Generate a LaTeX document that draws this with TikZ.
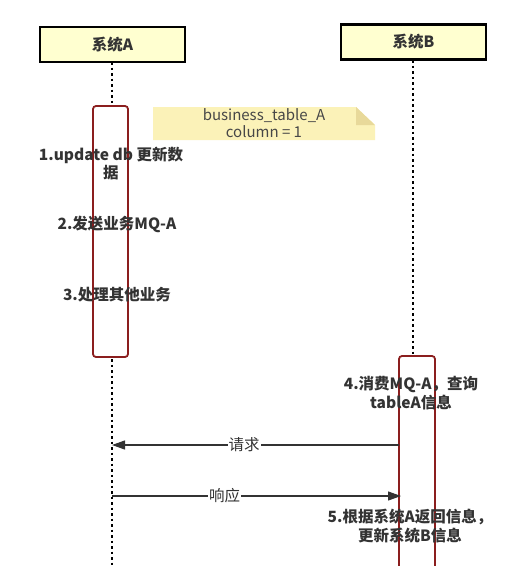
\documentclass[tikz,border=0pt]{standalone}
\usepackage{fontspec}
\setmainfont{Noto Sans CJK SC}
\usetikzlibrary{arrows.meta}
\definecolor{boxfill}{HTML}{FFFFD0}
\definecolor{notefill}{HTML}{FBF2B8}
\definecolor{notefold}{HTML}{E8D99A}
\definecolor{actred}{HTML}{8B1E1E}
\definecolor{txt}{HTML}{333333}
\tikzset{
  sysbox/.style={draw=black, line width=2.2pt, fill=boxfill, minimum width=145pt, minimum height=35pt, inner sep=0pt, font=\fontsize{15.5}{18}\selectfont\bfseries, text=txt},
  lifeline/.style={line width=2.5pt, dash pattern=on 2.5pt off 3pt, black},
  actbox/.style={draw=actred, line width=1.8pt, fill=white, rounded corners=3pt},
  steptext/.style={font=\fontsize{15.5}{18.5}\selectfont\bfseries, text=txt, align=center, inner sep=0pt},
  notetext/.style={font=\fontsize{15}{16.5}\selectfont, text=txt!90, align=center, inner sep=0pt},
  msg/.style={draw=txt, line width=1.2pt, -{Triangle[length=13pt,width=9pt]}},
  msglabel/.style={font=\fontsize{15.5}{17}\selectfont, text=txt, fill=white, inner sep=1pt},
}
\begin{document}
\begin{tikzpicture}[x=1pt,y=-1pt]
\useasboundingbox (0,0) rectangle (517,566);
% lifelines
\draw[lifeline] (112,62) -- (112,566);
\draw[lifeline] (413,60) -- (413,355);
% system boxes
\node[sysbox] (A) at (112.5,44.5) {系统A};
\node[sysbox] (B) at (413.5,42) {系统B};
% activations
\draw[actbox] (93,106) rectangle (128,357);
\draw[actbox] (399,356) rectangle (435,580);
\coordinate (actA) at (112,445);
\coordinate (actB) at (399,445);
\coordinate (actA2) at (112,496);
\coordinate (actB2) at (401,496);
% note
\fill[notefill] (153,107) -- (356,107) -- (375,125) -- (375,140) -- (153,140) -- cycle;
\fill[notefold] (356,107) -- (375,125) -- (356,125) -- cycle;
\node[notetext] (note) at (264,123) {business\_table\_A\\column = 1};
% step texts
\node[steptext] (s1) at (111,163.5) {1.update db 更新数\\据};
\node[steptext] (s2) at (117,224) {2.发送业务MQ-A};
\node[steptext] (s3) at (117,295) {3.处理其他业务};
\node[steptext] (s4) at (411,393) {4.消费MQ-A，查询\\tableA信息};
\node[steptext] (s5) at (410,526) {5.根据系统A返回信息，\\更新系统B信息};
% messages
\draw[msg] (actB) -- node[msglabel, pos=0.54] {请求} (actA);
\draw[msg] (actA2) -- node[msglabel, pos=0.39] {响应} (actB2);
\end{tikzpicture}
\end{document}
